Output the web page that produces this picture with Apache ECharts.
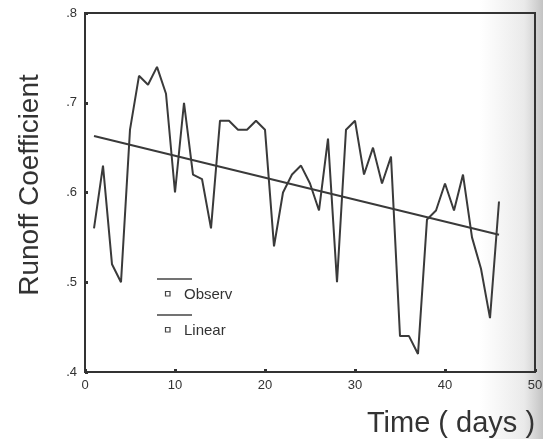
<!DOCTYPE html>
<html>
<head>
<meta charset="utf-8">
<script src="https://cdn.jsdelivr.net/npm/echarts@6/dist/echarts.min.js"></script>
<style>
html,body{margin:0;padding:0;background:#fff;}
#c{width:543px;height:439px;}
</style>
</head>
<body>
<div id="c"></div>
<script>
// Data
var days = [1,2,3,4,5,6,7,8,9,10,11,12,13,14,15,16,17,18,19,20,21,22,23,24,25,26,27,28,29,30,31,32,33,34,35,36,37,38,39,40,41,42,43,44,45,46];
var observed = [0.56,0.63,0.52,0.50,0.67,0.73,0.72,0.74,0.71,0.60,0.70,0.62,0.615,0.56,0.68,0.68,0.67,0.67,0.68,0.67,0.54,0.60,0.62,0.63,0.61,0.58,0.66,0.50,0.67,0.68,0.62,0.65,0.61,0.64,0.44,0.44,0.42,0.57,0.58,0.61,0.58,0.62,0.55,0.515,0.46,0.59];
var linearDays = [1,46];
var linearValues = [0.663,0.553];
var yTicks = ['.4','.5','.6','.7','.8'];
var xTicks = ['0','10','20','30','40','50'];
var legendNames = ['Observ','Linear'];

function pairs(xs, ys){ return xs.map(function(x,i){ return [x, ys[i]]; }); }

var chart = echarts.init(document.getElementById('c'), null, {renderer:'canvas'});
var ink = '#333';
var font = 'Liberation Sans, Arial, sans-serif';

var legendGraphics = [];
legendNames.forEach(function(n, i){
  var y0 = 279 + i*36;
  legendGraphics.push({type:'line', shape:{x1:157,y1:y0,x2:192,y2:y0}, style:{stroke:'#444',lineWidth:1.5}, z:10});
  legendGraphics.push({type:'rect', shape:{x:165.5,y:y0+12.5,width:4.5,height:4.5}, style:{fill:'#fff',stroke:'#444',lineWidth:1.2}, z:10});
  legendGraphics.push({type:'text', x:184, y:y0+16, style:{text:n, font:'15px '+font, fill:ink, textVerticalAlign:'middle'}, z:10});
});

chart.setOption({
  backgroundColor:'#fff',
  animation:false,
  graphic: [
    {type:'rect', shape:{x:480,y:0,width:63,height:439}, z:-10, silent:true,
     style:{fill:{type:'linear',x:0,y:0,x2:1,y2:0,colorStops:[{offset:0,color:'rgba(190,190,190,0)'},{offset:0.7,color:'rgba(185,185,185,0.3)'},{offset:1,color:'rgba(175,175,175,0.75)'}]}}},
    {type:'text', x:30, y:185, rotation:Math.PI/2, style:{text:'Runoff Coefficient', font:'28px '+font, fill:ink, textAlign:'center', textVerticalAlign:'middle'}},
    {type:'text', x:451, y:424, style:{text:'Time ( days )', font:'29px '+font, fill:ink, textAlign:'center', textVerticalAlign:'middle'}}
  ].concat(legendGraphics),
  grid:{left:85, top:13, right:8, bottom:67, show:true, borderColor:ink, borderWidth:2, outerBoundsMode:'none', containLabel:false},
  xAxis:{type:'value', min:0, max:50, interval:10,
    axisLine:{show:true, lineStyle:{color:ink,width:2}},
    axisTick:{show:true, length:3, inside:true, lineStyle:{color:ink,width:3}},
    splitLine:{show:false},
    axisLabel:{color:ink, fontSize:13, fontFamily:font, margin:7, formatter:function(v){ return xTicks[Math.round(v/10)]; }}},
  yAxis:{type:'value', min:0.4, max:0.8, interval:0.1,
    axisLine:{show:true, lineStyle:{color:ink,width:2}},
    axisTick:{show:true, length:3, inside:true, lineStyle:{color:ink,width:3}},
    splitLine:{show:false},
    axisLabel:{color:ink, fontSize:13, fontFamily:font, margin:8, formatter:function(v){ return yTicks[Math.round((v-0.4)*10)]; }}},
  series:[
    {name:legendNames[0], type:'line', data:pairs(days, observed), symbol:'none', lineStyle:{color:'#3a3a3a', width:2}, z:3},
    {name:legendNames[1], type:'line', data:pairs(linearDays, linearValues), symbol:'none', lineStyle:{color:'#3a3a3a', width:2}, z:3}
  ]
});
</script>
</body>
</html>
